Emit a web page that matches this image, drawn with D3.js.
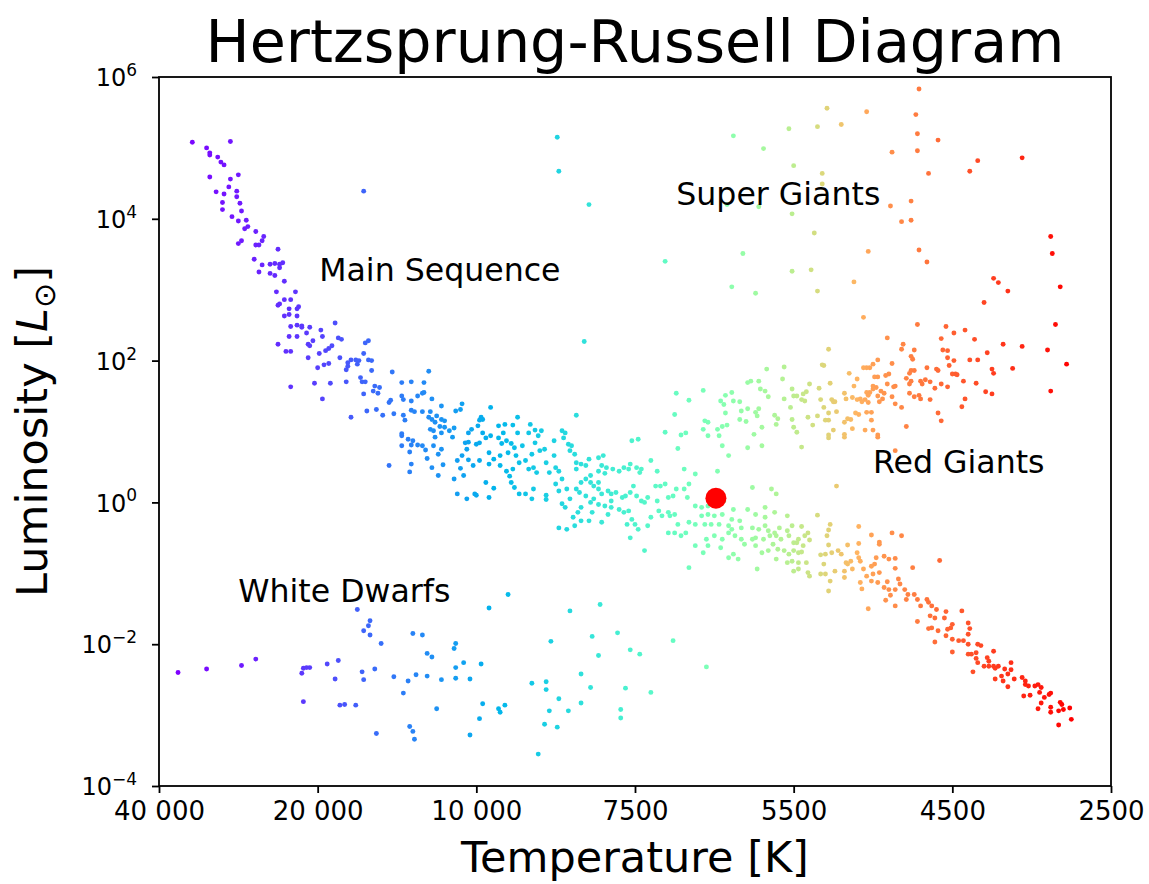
<!DOCTYPE html>
<html><head><meta charset="utf-8">
<script src="https://cdn.jsdelivr.net/npm/d3@7"></script>
<style>
body{margin:0;background:#fff}
svg{display:block}
text{font-family:"DejaVu Sans",sans-serif;fill:#000}
</style>
</head><body>
<svg id="chart" width="1149" height="884"></svg>
<script>
// ---- tick labels ----
const tempTickLabels = ["40 000","20 000","10 000","7500","5500","4500","2500"];
const lumTickExponents = [-4,-2,0,2,4,6];
// ---- annotations: [text, tempAxisPos, logL] ----
const annotations = [
  ["Super Giants", 3.26, 4.20],
  ["Main Sequence", 1.01, 3.12],
  ["Red Giants", 4.50, 0.41],
  ["White Dwarfs", 0.50, -1.40]
];
// ---- the Sun: [tempAxisPos, logL] ----
const sun = [3.51, 0.06];
// ---- stars: [tempAxisPos, log10 L] ----
const hotMainSequence = [
[0.21,5.08],[0.45,5.09],[0.30,5.00],[0.32,4.93],[0.32,4.90],[0.37,4.87],[0.39,4.80],[0.41,4.76],[0.32,4.59],[0.50,4.62],[0.45,4.56],[0.44,4.45],[0.36,4.38],[0.41,4.35],[0.49,4.39],[0.49,4.31],[0.40,4.23],[0.51,4.22],[0.40,4.13],[0.52,4.11],[0.46,4.03],[0.50,3.97],[0.55,3.98],[0.56,3.89],[0.54,3.86],[0.61,3.82],[0.66,3.75],[0.65,3.69],[0.52,3.69],[0.50,3.65],[0.61,3.63],[0.63,3.63],[0.75,3.57],
[0.60,3.43],[0.65,3.35],[0.70,3.36],[0.73,3.37],[0.76,3.36],[0.78,3.38],[0.76,3.31],[0.63,3.25],[0.70,3.23],[0.73,3.20],[0.79,3.12],[0.74,2.97],[0.86,2.97],[0.79,2.86],[0.83,2.86],[0.75,2.78],[0.76,2.80],[0.88,2.76],[0.82,2.73],[0.87,2.73],[0.79,2.63],[0.82,2.65],[0.87,2.63],[1.11,2.53],[0.83,2.48],[0.87,2.50],[0.90,2.49],[0.90,2.47],[0.95,2.47],[1.02,2.43],[0.93,2.39],[0.82,2.34],[0.87,2.34],[1.03,2.34],[1.13,2.32],[1.15,2.30],[0.97,2.28],[0.94,2.23],[0.95,2.21],[0.75,2.23],[0.80,2.13],[0.83,2.13],[1.09,2.21],[1.07,2.17],[1.05,2.14],[1.01,2.10],[1.32,2.28],[1.30,2.25],[1.29,2.10],[1.14,2.04],[0.94,2.04],[1.21,2.01],[1.24,2.01],[1.26,2.00],[1.19,1.97],[1.25,1.95],[1.32,2.01],[1.34,2.00],[1.19,1.92],[1.18,1.87],[1.07,1.96],[1.04,1.94],[1.00,1.90],[1.34,1.86],[1.47,1.84],[1.70,1.85],[1.27,1.76],[1.28,1.70],[1.30,1.70],[1.18,1.70],[0.98,1.68],[1.08,1.68],[0.83,1.63],[1.36,1.64],[1.39,1.62],[1.35,1.57],[1.38,1.54],[1.29,1.53],[1.53,1.69],[1.59,1.70],[1.67,1.69],[1.53,1.50],[1.54,1.45],[1.66,1.54],[1.67,1.55],[1.63,1.50],[1.59,1.43],[1.72,1.46],[1.46,1.44],[1.45,1.41],[1.03,1.46],[1.31,1.29],[1.37,1.31],[1.41,1.23],[1.48,1.25],[1.54,1.23],[1.55,1.16],[1.59,1.30],[1.61,1.28],[1.66,1.28],[1.71,1.28],[1.78,1.36],[1.70,1.20],[1.72,1.17],[1.75,1.22],[1.78,1.17],[1.80,1.15],[1.74,1.13],[1.77,1.07],[1.80,1.06],[1.83,1.01],[1.86,1.05],[1.91,1.39],[1.87,1.29],[1.90,1.31],[1.21,1.20],[1.71,1.03],[1.73,1.01],[1.78,0.98],[1.53,0.97],[1.97,1.03],[1.95,0.98],
[1.53,0.94],[1.57,0.89],[1.60,0.87],[1.63,0.81],[1.66,0.80],[1.68,0.74],[1.59,0.81],[1.53,0.80],[1.58,0.71],[1.45,0.52],[1.59,0.54],[1.58,0.43],[1.69,0.62],[1.72,0.49],[1.76,0.68],[1.78,0.75],[1.79,0.53],[1.76,0.38],[1.73,0.80],[1.74,0.92],[1.85,0.92],[1.93,0.84],[1.95,0.85],[1.94,0.75],[1.91,0.66],[1.88,0.59],[1.95,0.60],[1.98,0.52],[1.90,0.48],[1.92,0.38],[1.86,0.33],[1.88,0.12],[1.94,0.05],[1.99,0.12]
];
const midMainSequence = [
[2.09,1.34],[2.03,1.20],[2.04,1.17],[2.02,1.16],[2.14,1.08],[2.18,1.10],[2.23,1.09],[2.26,1.20],[2.34,1.10],[2.37,1.02],[2.41,1.01],[2.54,1.01],[2.56,0.98],[2.63,1.23],[2.01,1.08],[2.04,0.98],[2.17,0.98],[2.26,0.98],[2.33,0.98],
[2.00,0.82],[2.02,0.84],[2.06,0.91],[2.09,0.94],[2.14,0.91],[2.16,0.83],[2.19,0.87],[2.22,0.83],[2.24,0.77],[2.20,0.70],[2.15,0.66],[2.08,0.70],[2.02,0.59],[2.08,0.54],[2.11,0.61],[2.15,0.52],[2.19,0.44],[2.23,0.47],[2.25,0.66],[2.27,0.56],[2.29,0.80],[2.31,0.59],[2.33,0.47],[2.38,0.42],[2.36,0.49],[2.35,0.68],[2.37,0.84],[2.40,0.73],[2.43,0.75],[2.44,0.56],[2.46,0.42],[2.50,0.49],[2.49,0.66],[2.52,0.44],[2.54,0.33],[2.39,0.94],[2.49,0.87],[2.55,0.91],[2.59,0.73],[2.60,0.80],[2.58,0.82],[2.62,0.68],[2.63,0.47],[2.66,0.54],[2.69,0.52],[2.63,0.56],[2.71,0.61],[2.72,0.38],[2.77,0.63],[2.80,0.66],[2.79,0.52],[2.77,0.44],[2.82,0.49],[2.81,0.41],[2.86,0.47],[2.90,0.44],[2.93,0.49],[2.96,0.47],[2.97,0.54],[3.01,0.49],[3.04,0.47],[3.10,0.59],[3.14,0.44],[3.03,0.42],
[2.06,0.28],[2.11,0.20],[2.08,0.07],[2.00,0.10],[2.21,0.37],[2.22,0.28],[2.24,0.21],[2.27,0.12],[2.31,0.12],[2.36,0.19],[2.35,0.05],[2.44,0.10],[2.44,0.04],[2.50,0.26],[2.52,0.16],[2.57,0.19],[2.54,-0.02],[2.59,0.05],[2.63,0.19],[2.66,0.28],[2.69,0.33],[2.72,0.28],[2.74,0.23],[2.77,0.28],[2.77,0.19],[2.79,0.12],[2.83,0.16],[2.85,0.12],[2.88,0.14],[2.92,0.07],[2.94,0.09],[2.97,0.14],[2.99,0.23],[3.01,0.09],[3.04,0.02],[3.06,0.00],[3.08,0.07],[3.13,0.23],[3.14,0.02],[3.16,0.23],[3.19,0.26],[3.21,0.07],[3.24,0.09],[3.26,0.19],[3.31,0.19],[3.33,0.07],[3.34,0.26],
[3.38,-0.05],[3.42,-0.07],[3.46,-0.05],[3.46,-0.17],[3.42,-0.19],[3.50,-0.19],[3.55,-0.17],[3.56,0.02],[3.62,-0.10],[3.61,-0.24],[3.66,-0.26],[3.67,-0.36],[3.59,-0.33],[3.53,-0.31],[3.48,-0.31],[3.44,-0.31],[3.38,-0.31],[3.34,-0.28],[3.32,-0.43],[3.29,-0.47],[3.25,-0.43],[3.21,-0.43],[3.22,-0.19],[3.21,-0.14],[3.25,-0.17],[3.27,-0.31],[3.17,-0.19],[3.15,-0.12],[3.10,-0.21],[3.08,-0.33],[3.02,-0.38],[3.00,-0.31],[2.98,-0.24],[2.95,-0.31],[2.96,-0.12],[2.93,-0.14],[2.90,-0.10],[2.85,-0.07],[2.83,-0.17],[2.79,-0.28],[2.73,-0.14],[2.71,-0.26],[2.66,-0.26],[2.62,-0.33],[2.61,-0.21],[2.64,-0.14],[2.66,-0.07],[2.72,0.00],[2.74,0.05],[2.69,0.09],[2.65,0.14],[2.77,-0.03],[2.81,-0.05],[2.85,0.02],[2.56,-0.07],[2.52,-0.36],[2.57,-0.38],[2.97,-0.50],[3.06,-0.68],[3.34,-0.92],[3.38,-0.61],[3.43,-0.71],[3.45,-0.52],[3.50,-0.47],[3.55,-0.52],[3.59,-0.43],[3.61,-0.38],[3.63,-0.47],[3.67,-0.52],[3.69,-0.59],[3.62,-0.73],[3.65,-0.80],[3.59,-0.78],[3.54,-0.64],[3.46,-0.61],
[3.74,-0.36],[3.78,-0.38],[3.82,-0.33],[3.84,-0.40],[3.88,-0.43],[3.91,-0.36],[3.96,-0.40],[3.99,-0.33],[3.76,-0.50],[3.81,-0.52],[3.85,-0.47],[3.89,-0.47],[3.92,-0.52],[3.97,-0.47],[4.00,-0.57],[3.87,-0.59],[3.90,-0.66],[3.94,-0.68],[3.97,-0.73],[4.00,-0.68],[3.99,-0.83],[3.96,-0.85],[3.89,-0.80],[3.84,-0.68],[3.80,-0.71],[3.76,-0.61],[3.77,-0.94],[4.00,-0.97],[3.74,-0.52]
];
const coolMainSequence = [
[4.15,-0.18],[4.05,-0.34],[4.23,-0.31],[4.41,-0.34],[4.09,-0.43],[4.07,-0.47],[4.03,-0.52],[4.02,-0.57],[4.06,-0.61],[4.10,-0.53],[4.22,-0.39],[4.21,-0.47],[4.22,-0.60],[4.34,-0.60],[4.41,-0.58],[4.49,-0.46],[4.62,-0.43],[4.68,-0.47],[4.54,-0.56],[4.54,-0.59],[4.03,-0.71],[4.05,-0.70],[4.03,-0.85],[4.08,-0.85],[4.17,-0.74],[4.20,-0.73],[4.24,-0.71],[4.28,-0.68],[4.30,-0.73],[4.36,-0.83],[4.33,-0.85],[4.40,-0.71],[4.41,-0.78],[4.42,-0.83],[4.52,-0.78],[4.57,-0.76],[4.60,-0.80],[4.64,-0.79],[4.51,-0.87],[4.49,-0.90],[4.44,-0.94],[4.46,-1.04],[4.50,-1.01],[4.54,-0.99],[4.49,-1.11],[4.53,-1.13],[4.59,-1.12],[4.64,-0.93],[4.75,-0.92],[4.92,-0.82],[4.42,-1.13],[4.43,-1.22],[4.57,-1.20],[4.60,-1.23],[4.64,-1.23],[4.66,-1.08],[4.67,-1.15],[4.61,-1.31],[4.70,-1.23],[4.72,-1.30],[4.71,-1.37],[4.76,-1.30],[4.78,-1.37],[4.64,-1.46],[4.58,-1.38],[4.47,-1.50],[4.84,-1.37],[4.85,-1.41],[4.87,-1.46],[4.90,-1.51],[4.96,-1.54],[5.06,-1.53],[4.80,-1.46],[4.03,-0.94],[4.09,-0.99],[4.10,-1.04],[4.17,-1.01],[4.19,-0.87],[4.20,-1.01],[4.26,-0.97],[4.32,-0.97],[4.34,-0.87],[4.23,-1.11],[4.22,-1.25],[4.32,-1.06],[4.37,-0.94],
[4.78,-1.68],[4.86,-1.60],[4.89,-1.63],[4.95,-1.63],[4.85,-1.78],[4.87,-1.77],[4.91,-1.81],[4.97,-1.79],[5.00,-1.72],[4.99,-1.77],[4.89,-1.97],[4.96,-1.88],[5.00,-1.93],[5.04,-1.95],[5.07,-1.95],[5.00,-2.11],[5.10,-1.70],[5.11,-1.78],[5.10,-1.86],[5.10,-2.00],[5.16,-2.00],[5.18,-2.02],[5.10,-2.14],[5.12,-2.14],[5.15,-2.12],[5.26,-2.10],[5.15,-2.20],[5.16,-2.26],[5.22,-2.19],[5.23,-2.24],[5.20,-2.31],[5.23,-2.31],[5.26,-2.31],[5.29,-2.31],[5.27,-2.34],[5.13,-2.39],[5.33,-2.35],[5.37,-2.26],[5.37,-2.36],[5.35,-2.42],[5.31,-2.45],[5.27,-2.49],[5.32,-2.52],[5.39,-2.49],[5.44,-2.47],[5.46,-2.52],[5.35,-2.60],[5.46,-2.57],[5.48,-2.59],[5.52,-2.59],[5.54,-2.57],[5.56,-2.61],[5.61,-2.71],[5.62,-2.69],[5.55,-2.68],[5.58,-2.75],[5.49,-2.72],[5.45,-2.73],[5.56,-2.83],[5.54,-2.91],[5.62,-2.89],[5.62,-2.96],[5.68,-2.82],[5.69,-2.85],[5.67,-2.94],[5.70,-2.92],[5.74,-2.90],[5.75,-3.06],[5.67,-3.14]
];
const giants = [
[3.19,3.40],[3.99,3.26],[3.61,3.04],[3.76,2.95],[2.68,2.27],
[3.26,1.54],[3.34,1.44],[3.43,1.58],[3.25,1.24],[3.19,0.99],[3.44,1.15],[3.46,1.13],[3.43,1.03],[3.52,1.03],[3.55,1.07],[3.58,1.09],[3.54,1.43],[3.56,1.38],[3.57,1.51],[3.61,1.55],[3.62,1.43],[3.66,1.42],[3.57,1.26],[3.67,1.29],[3.71,1.32],[3.78,1.32],[3.76,1.27],[3.77,1.22],[3.66,1.17],[3.70,1.14],[3.80,1.06],[3.83,1.88],[3.94,1.91],[3.71,1.69],[3.73,1.71],[3.78,1.71],[3.79,1.60],[3.82,1.57],[3.84,1.49],[3.93,1.74],[3.94,1.46],[3.99,1.60],[4.00,1.50],[3.98,1.34],[3.88,1.23],[3.90,1.18],[3.99,1.17],[3.75,0.96],[3.89,1.10],[4.00,1.06],[3.29,0.95],[3.32,0.98],
[3.27,0.76],[3.31,0.47],[3.38,0.40],[3.52,0.44],[3.55,0.80],[3.59,0.66],[3.46,0.94],[3.53,0.94],[3.74,0.21],[3.71,-0.10],[3.76,-0.17],[3.82,-0.07],[3.88,-0.14],[3.96,-0.19],[3.82,-0.21],[3.86,0.19],[3.89,0.12],[3.71,0.77],[3.80,0.80],[3.02,0.89],[2.98,0.87],
[4.22,0.91],[4.32,0.92],[4.53,0.92],[4.05,0.78],[4.64,0.73],[4.27,0.23],
[4.84,3.39],[4.11,3.28],[4.15,2.98],[4.38,3.11],[5.26,3.16],[5.29,3.10],[5.35,2.98],[5.68,3.04],[5.20,2.82],[4.44,2.61],[4.78,2.51],[4.96,2.48],[5.01,2.39],[5.08,2.43],[5.14,2.30],[5.65,2.51],[4.93,2.31],[4.59,2.32],[4.69,2.23],[4.68,2.16],[4.76,2.15],[4.94,2.15],[4.97,2.14],[4.97,2.04],[5.01,2.00],[5.11,2.01],[5.16,2.01],[5.22,2.11],[5.32,2.23],[5.44,2.20],[5.60,2.15],[5.72,1.95],[5.38,1.89],[5.25,1.88],[5.26,1.82],[4.98,1.93],[5.00,1.81],[5.02,1.81],[5.03,1.80],[5.07,1.71],[5.15,1.68],[4.90,1.88],[4.91,1.86],[4.84,1.90],[4.74,2.06],[4.75,2.02],[4.74,1.86],[4.76,1.86],[4.73,1.82],[4.62,1.96],[4.53,2.01],[4.50,1.95],[4.48,1.90],[4.46,1.90],[4.44,1.90],[4.60,1.81],[4.58,1.79],[4.51,1.77],[4.53,1.77],[4.71,1.75],[4.74,1.71],[4.80,1.71],[4.83,1.73],[4.86,1.70],[4.73,1.67],[4.81,1.67],[4.59,1.67],[4.64,1.64],[4.63,1.63],[4.50,1.64],[4.52,1.62],[4.50,1.60],[4.55,1.57],[4.57,1.54],[4.46,1.55],[4.48,1.55],[4.47,1.51],[4.40,1.74],[4.35,1.82],[4.38,1.64],[4.32,1.54],[4.33,1.46],[4.37,1.48],[4.40,1.45],[4.42,1.46],[4.45,1.45],[4.43,1.42],[4.53,1.50],[4.56,1.46],[4.47,1.41],[4.54,1.42],[4.62,1.49],[4.64,1.39],[4.68,1.34],[4.73,1.54],[4.76,1.49],[4.79,1.51],[4.80,1.46],[4.86,1.45],[4.89,1.61],[4.93,1.67],[4.97,1.63],[4.91,1.26],[4.93,1.15],[5.06,1.35],[5.08,1.46],[5.21,1.56],[5.25,1.53],[5.62,1.57],[4.71,1.07],[4.39,1.26],[4.41,1.24],[4.46,1.27],[4.49,1.27],[4.36,1.17],[4.49,1.16],[4.45,1.02],[4.50,1.02],[4.37,1.04],[4.53,0.95],[4.32,0.96],
[4.22,2.16],[4.18,1.94],[4.19,1.93],[4.23,1.68],[4.10,1.67],[4.16,1.61],[4.08,1.56],[4.06,1.53],[4.02,1.50],[4.05,1.45],[4.07,1.43],[4.17,1.45],[4.24,1.45],[4.25,1.42],[4.26,1.42],[4.19,1.34],[4.22,1.26],[4.27,1.28],[4.09,1.20],[4.15,1.22],[4.20,1.16],[4.22,1.16],[4.12,1.09],[4.25,1.02],[4.22,0.95],[4.02,0.99],[4.32,1.13],[4.34,1.18]
];
const superGiants = [
[1.29,4.39],
[2.51,5.15],[2.52,4.67],[2.71,4.20],[3.62,5.17],[3.81,4.99],[3.97,5.27],[4.00,4.75],[3.58,4.20],[3.78,4.17],[3.99,4.07],[3.68,3.51],
[4.21,5.56],[4.46,5.51],[4.79,5.83],[4.15,5.30],[4.30,5.33],[4.77,5.47],[4.78,5.20],[4.91,5.11],[4.62,4.94],[4.78,4.96],[5.16,4.82],[5.44,4.86],[5.11,4.67],[4.85,4.64],[4.18,4.64],[4.18,4.49],[4.61,4.18],[4.74,4.25],[4.68,3.96],[4.74,3.98],[4.13,3.80],[4.47,3.54],[4.79,3.56],[5.62,3.75],[5.63,3.51]
];
const whiteDwarfs = [
[1.25,-1.51],[2.20,-1.30],[2.08,-1.49],[2.59,-1.53],[2.78,-1.44],
[0.12,-2.40],[0.30,-2.35],[0.52,-2.30],[0.61,-2.21],[0.90,-2.41],[0.91,-2.34],[0.93,-2.33],[0.95,-2.33],[0.91,-2.81],[1.06,-2.28],[1.13,-2.23],[1.11,-2.49],[1.14,-2.86],[1.17,-2.85],[1.24,-2.86],[1.28,-2.39],[1.29,-2.50],[1.36,-2.35],[1.29,-1.81],[1.32,-1.74],[1.33,-1.67],[1.33,-1.87],[1.40,-1.99],[1.37,-3.26],[1.48,-2.46],[1.57,-2.52],[1.54,-2.69],[1.62,-2.43],[1.69,-2.45],[1.60,-1.85],[1.66,-1.87],[1.69,-2.13],[1.72,-2.18],[1.58,-3.16],[1.60,-3.23],[1.61,-3.34],[1.78,-2.50],[1.75,-2.91],[1.87,-1.99],[1.86,-2.06],[1.87,-2.33],[1.92,-2.26],[1.87,-2.48],[1.96,-2.49],[1.96,-3.28],
[2.03,-2.28],[2.04,-2.84],[2.02,-3.05],[2.14,-2.91],[2.15,-2.96],[2.18,-2.86],[2.47,-1.96],[2.73,-1.89],[2.89,-1.84],[2.77,-2.16],[2.97,-2.08],[3.03,-2.14],[3.24,-1.95],[3.45,-2.32],[2.66,-2.42],[2.35,-2.55],[2.44,-2.53],[2.44,-2.64],[2.52,-2.77],[2.72,-2.61],[2.94,-2.62],[3.10,-2.68],[2.46,-2.94],[2.58,-2.94],[2.66,-2.83],[2.91,-2.92],[2.91,-3.04],[2.43,-3.13],[2.51,-3.17],[2.39,-3.55]
];
// colour position along the temperature axis -> colormap fraction
const colorStopPos  = [0.1, 0.5, 1.0, 1.3, 1.8, 2.5, 3.5, 4.0, 4.55, 5.3, 5.75];
const colorStopFrac = [0.0, 0.03,0.08,0.13,0.2, 0.31,0.5, 0.62,0.8,  0.93,1.0];

const W = 1149, H = 884;
const M = {left:159, right:1111, top:77, bottom:786};
const svg = d3.select("#chart");

const x = d3.scaleLinear().domain([0, tempTickLabels.length-1]).range([M.left, M.right]);
const y = d3.scaleLog().domain([1e-4, 1e6]).range([M.bottom, M.top]);
const cfrac = d3.scaleLinear().domain(colorStopPos).range(colorStopFrac).clamp(true);
function rainbow(t){
  const r = Math.min(1, Math.abs(2*t-0.5));
  const g = Math.sin(Math.PI*t);
  const b = Math.cos(Math.PI*t/2);
  return d3.rgb(r*255, g*255, b*255).toString();
}

const stars = [].concat(hotMainSequence, whiteDwarfs, midMainSequence, superGiants, giants, coolMainSequence);

const plot = svg.append("g");
plot.selectAll("circle.star").data(stars).join("circle")
  .attr("class","star")
  .attr("cx", d => x(d[0]))
  .attr("cy", d => y(Math.pow(10, d[1])))
  .attr("r", 2.45)
  .attr("fill", d => rainbow(cfrac(d[0])));

// Sun
plot.append("circle")
  .attr("cx", x(sun[0])).attr("cy", y(Math.pow(10, sun[1])))
  .attr("r", 10.5).attr("fill", "#ff0000");

// annotations
svg.selectAll("text.ann").data(annotations).join("text")
  .attr("class","ann")
  .attr("x", d => x(d[1])).attr("y", d => y(Math.pow(10, d[2])))
  .attr("font-size", 31.6)
  .text(d => d[0]);

// frame
svg.append("rect")
  .attr("x", M.left).attr("y", M.top)
  .attr("width", M.right-M.left).attr("height", M.bottom-M.top)
  .attr("fill","none").attr("stroke","#000").attr("stroke-width",1.8);

// x axis
const xAxis = svg.append("g").attr("transform", `translate(0,${M.bottom})`)
  .call(d3.axisBottom(x).tickValues(d3.range(tempTickLabels.length))
        .tickFormat(i => tempTickLabels[i]).tickSize(7).tickPadding(9));
xAxis.select(".domain").remove();
xAxis.selectAll(".tick line").attr("stroke","#000").attr("stroke-width",1.8);
xAxis.selectAll(".tick text").attr("font-size",26).attr("font-family","DejaVu Sans").attr("fill","#000");

// y axis
const yAxis = svg.append("g").attr("transform", `translate(${M.left},0)`)
  .call(d3.axisLeft(y).tickValues(lumTickExponents.map(e => Math.pow(10,e))).tickSize(7).tickFormat(""));
yAxis.select(".domain").remove();
yAxis.selectAll(".tick line").attr("stroke","#000").attr("stroke-width",1.8);
yAxis.selectAll(".tick").each(function(d,i){
  const t = d3.select(this).append("text")
    .attr("x", -22).attr("y", 0).attr("dy","0.36em")
    .attr("text-anchor","end").attr("font-size",24).attr("fill","#000")
    .attr("font-family","DejaVu Sans");
  t.append("tspan").text("10");
  const e = lumTickExponents[i];
  t.append("tspan").attr("dy","-0.6em").attr("font-size",17)
    .text(e < 0 ? "\u2212" + Math.abs(e) : String(e));
});

// title
svg.append("text").attr("x", (M.left+M.right)/2).attr("y", 62)
  .attr("text-anchor","middle").attr("font-size",58.7)
  .text("Hertzsprung-Russell Diagram");

// x label
svg.append("text").attr("x", (M.left+M.right)/2).attr("y", 872)
  .attr("text-anchor","middle").attr("font-size",43)
  .text("Temperature [K]");

// y label
const yl = svg.append("text")
  .attr("transform", `translate(47,${(M.top+M.bottom)/2}) rotate(-90)`)
  .attr("text-anchor","middle").attr("font-size",43);
yl.append("tspan").text("Luminosity [");
yl.append("tspan").attr("font-style","italic").text("L");
yl.append("tspan").attr("font-size",30).attr("dy","0.25em").text("\u2299");
yl.append("tspan").attr("dy","-0.18em").text("]");
</script>
</body></html>
